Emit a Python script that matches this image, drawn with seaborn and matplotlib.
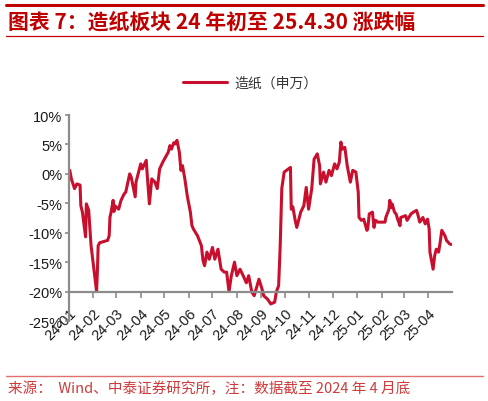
import pandas as pd
import seaborn as sns
import matplotlib.pyplot as plt
import matplotlib.dates as mdates
from matplotlib.lines import Line2D
from matplotlib.ticker import FuncFormatter

sns.set_theme(style="white")
plt.rcParams["font.family"] = ["Liberation Sans", "Noto Sans CJK SC"]

# 造纸（申万）累计涨跌幅（%），读图估计
dates = [
    "2024-01-02", "2024-01-04", "2024-01-08", "2024-01-11", "2024-01-15", "2024-01-16",
    "2024-01-18", "2024-01-22", "2024-01-23", "2024-01-26", "2024-01-29", "2024-02-05",
    "2024-02-06", "2024-02-07", "2024-02-09", "2024-02-19", "2024-02-21", "2024-02-22",
    "2024-02-23", "2024-02-26", "2024-02-27", "2024-02-28", "2024-03-04", "2024-03-07",
    "2024-03-11", "2024-03-13", "2024-03-18", "2024-03-20", "2024-03-25", "2024-03-26",
    "2024-04-01", "2024-04-03", "2024-04-08", "2024-04-09", "2024-04-12", "2024-04-15",
    "2024-04-19", "2024-04-22", "2024-04-25", "2024-04-29", "2024-05-06", "2024-05-08",
    "2024-05-10", "2024-05-13", "2024-05-15", "2024-05-17", "2024-05-20", "2024-05-22",
    "2024-05-24", "2024-05-27", "2024-05-30", "2024-06-03", "2024-06-05", "2024-06-07",
    "2024-06-12", "2024-06-17", "2024-06-19", "2024-06-21", "2024-06-24", "2024-06-27",
    "2024-07-01", "2024-07-04", "2024-07-08", "2024-07-12", "2024-07-16", "2024-07-19",
    "2024-07-22", "2024-07-25", "2024-07-29", "2024-08-01", "2024-08-05", "2024-08-09",
    "2024-08-13", "2024-08-16", "2024-08-20", "2024-08-23", "2024-08-29", "2024-09-02",
    "2024-09-04", "2024-09-09", "2024-09-13", "2024-09-18", "2024-09-20", "2024-09-23",
    "2024-09-25", "2024-09-27", "2024-09-30", "2024-10-08", "2024-10-09", "2024-10-11",
    "2024-10-14", "2024-10-16", "2024-10-21", "2024-10-25", "2024-10-28", "2024-10-31",
    "2024-11-04", "2024-11-07", "2024-11-11", "2024-11-14", "2024-11-15", "2024-11-19",
    "2024-11-22", "2024-11-26", "2024-11-29", "2024-12-03", "2024-12-06", "2024-12-09",
    "2024-12-11", "2024-12-13", "2024-12-16", "2024-12-19", "2024-12-23", "2024-12-26",
    "2024-12-30", "2025-01-02", "2025-01-03", "2025-01-06", "2025-01-09", "2025-01-13",
    "2025-01-14", "2025-01-16", "2025-01-20", "2025-01-22", "2025-01-24", "2025-01-27",
    "2025-02-05", "2025-02-06", "2025-02-10", "2025-02-11", "2025-02-13", "2025-02-14",
    "2025-02-17", "2025-02-19", "2025-02-21", "2025-02-24", "2025-02-25", "2025-03-03",
    "2025-03-05", "2025-03-10", "2025-03-13", "2025-03-17", "2025-03-19", "2025-03-21",
    "2025-03-25", "2025-03-28", "2025-03-31", "2025-04-02", "2025-04-03", "2025-04-07",
    "2025-04-09", "2025-04-11", "2025-04-14", "2025-04-16", "2025-04-18", "2025-04-22",
    "2025-04-24", "2025-04-28", "2025-04-30",
]
values = [
    0.6, -0.85, -2.5, -1.7, -1.9, -5.4,
    -6.5, -10.7, -5.1, -6.2, -12.2, -20.0,
    -16.6, -12.2, -11.7, -11.3, -10.5, -7.3,
    -6.8, -4.5, -6.4, -5.4, -6.0, -4.5,
    -3.4, -3.1, 0.0, -0.6, -3.9, -1.4,
    1.7, 0.85, 2.3, 0.3, -5.1, -0.85,
    -1.4, -2.5, 0.85, 2.0, 3.7, 4.8,
    4.2, 5.3, 5.1, 5.7, 3.7, 0.6,
    1.4, -0.85, -3.7, -6.5, -8.8, -9.4,
    -10.5, -12.2, -14.7, -15.6, -13.3, -14.5,
    -12.5, -14.5, -12.8, -16.2, -16.7, -16.7,
    -20.0, -17.3, -15.0, -17.3, -16.2, -17.3,
    -18.5, -17.3, -20.1, -20.7, -17.9, -19.6,
    -20.7, -21.3, -22.1, -21.8, -20.1, -19.0,
    -12.2, -2.5, 0.3, 1.1, -6.0, -5.6,
    -7.9, -9.1, -6.5, -5.4, -2.3, -6.0,
    -2.5, 2.5, 3.4, 1.4, -1.7, 0.3,
    -1.4, 0.6, -0.3, 1.7, 0.85, 2.0,
    5.4, 4.2, 4.5, 1.4, -1.4, 0.6,
    0.3, -3.1, -7.4, -7.9, -7.7, -9.6,
    -9.4, -6.8, -6.5, -9.1, -7.9, -8.2,
    -8.2, -7.4, -6.0, -4.5, -5.7, -5.1,
    -6.5, -6.8, -7.7, -8.8, -7.4, -7.1,
    -7.9, -6.8, -6.5, -6.2, -7.1, -8.2,
    -7.4, -8.5, -7.7, -9.4, -13.3, -16.2,
    -13.9, -12.8, -13.3, -11.6, -9.6, -10.5,
    -11.3, -11.9, -12.0,
]
series_name = "造纸（申万）"
y_ticks = [10, 5, 0, -5, -10, -15, -20, -25]

df = pd.DataFrame({"date": pd.to_datetime(dates), "pct": values})

fig = plt.figure(figsize=(4.88, 4.02), dpi=100)
ax = fig.add_axes([0.1414, 0.199, 0.7846, 0.5124])

line_color = "#C8102E"
axis_color = "#8C8C8C"

sns.lineplot(data=df, x="date", y="pct", ax=ax, color=line_color,
             linewidth=2.2, label=series_name)

ax.set_xlim(pd.Timestamp("2024-01-01"), pd.Timestamp("2025-04-30 20:00"))
ax.set_ylim(-25, 10)
ax.set_yticks(y_ticks)
ax.yaxis.set_major_formatter(FuncFormatter(lambda v, p: f"{v:.0f}%"))
ax.xaxis.set_major_locator(mdates.MonthLocator())
ax.xaxis.set_major_formatter(mdates.DateFormatter("%y-%m"))
ax.set_xlabel("")
ax.set_ylabel("")

for s in ["top", "right"]:
    ax.spines[s].set_visible(False)
ax.spines["left"].set_color(axis_color)
ax.spines["left"].set_linewidth(1.6)
ax.spines["bottom"].set_color(axis_color)
ax.spines["bottom"].set_linewidth(1.6)
ax.spines["bottom"].set_position(("data", -20))

ax.tick_params(axis="y", which="major", direction="out", length=3, width=1.2,
               color=axis_color, labelsize=10.5, labelcolor="#1a1a1a", pad=2, left=True)
ax.tick_params(axis="x", which="major", direction="out", length=4, width=1.2,
               color=axis_color, labelsize=10.5, labelcolor="#1a1a1a", pad=6, bottom=True)
for lbl in ax.get_xticklabels():
    lbl.set_rotation(45)
    lbl.set_ha("right")
    lbl.set_rotation_mode("anchor")

ax.legend().remove()
handles, labels = ax.get_legend_handles_labels()
fig.legend(handles, labels, loc="center", bbox_to_anchor=(0.512, 0.791),
           frameon=False, handlelength=3.2, handletextpad=0.5,
           labelcolor="#333333", prop={"family": ["Noto Sans CJK SC"], "size": 10})

title_color = "#C00000"
fig.add_artist(Line2D([0.012, 0.99], [0.985, 0.985], color=title_color, linewidth=2.2))
fig.add_artist(Line2D([0.012, 0.99], [0.907, 0.907], color=title_color, linewidth=0.9))
fig.text(0.017, 0.946, "图表 7：造纸板块 24 年初至 25.4.30 涨跌幅", color=title_color,
         fontsize=15, fontweight="bold", va="center", ha="left",
         family=["Noto Sans CJK SC", "Liberation Sans"])

foot_color = "#D03A3A"
fig.add_artist(Line2D([0.012, 0.99], [0.062, 0.062], color="#E07070", linewidth=1.0))
fig.text(0.017, 0.032, "来源：  Wind、中泰证券研究所，注：数据截至 2024 年 4 月底",
         color=foot_color, fontsize=10.5, va="center", ha="left",
         family=["Noto Sans CJK SC", "Liberation Sans"])

fig.savefig("out.png", dpi=100)
